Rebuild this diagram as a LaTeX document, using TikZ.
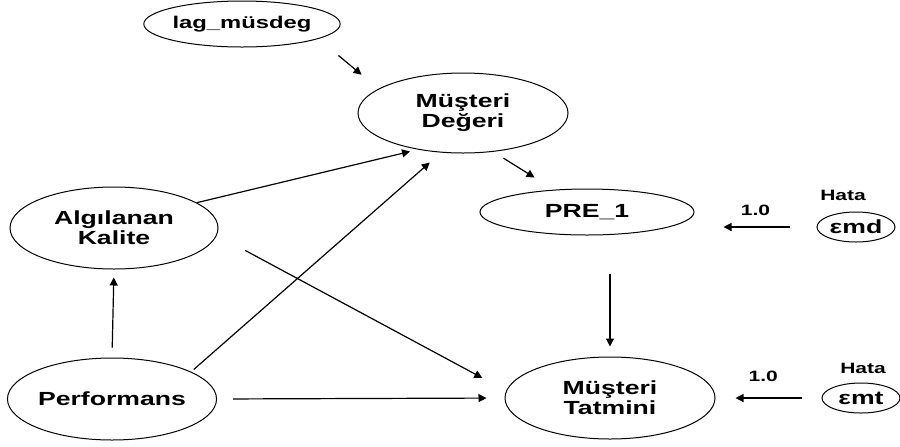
\documentclass[tikz,border=0pt]{standalone}
\usepackage{fontspec}
\setmainfont{Liberation Sans}[FakeStretch=1.4]
\usetikzlibrary{shapes, arrows.meta, positioning, calc}

\begin{document}
\begin{tikzpicture}[x=0.5pt, y=-0.5pt, >={Triangle[length=4pt, width=4pt]},
        latent/.style={ellipse, draw, line width=0.5pt, inner sep=0pt, align=center, font=\fontsize{9.5}{8.5}\selectfont\bfseries},
        error/.style={ellipse, draw, line width=0.5pt, inner sep=0pt, minimum width=39pt, minimum height=15pt, font=\fontsize{9.5}{9.5}\selectfont\bfseries},
        small/.style={font=\fontsize{7.5}{7.5}\selectfont\bfseries, inner sep=0pt},
        link/.style={->, line width=0.6pt}]

    \useasboundingbox (0,0) rectangle (900,446);

    \node (lag) [latent, minimum width=98pt, minimum height=23pt, font=\fontsize{8.5}{8.5}\selectfont\bfseries] at (242,24) {lag\_müsdeg};
    \node (deger) [latent, minimum width=105pt, minimum height=40pt] at (463,113) {Müşteri\\Değeri};
    \node (pre) [latent, minimum width=107pt, minimum height=23pt] at (587,212) {PRE\_1};
    \node (kalite) [latent, minimum width=104pt, minimum height=41pt] at (114,228) {Algılanan\\Kalite};
    \node (perf) [latent, minimum width=102pt, minimum height=41pt] at (112,399) {Performans};
    \node (tatmin) [latent, minimum width=105pt, minimum height=41pt] at (610,398) {Müşteri\\Tatmini};

    % Error terms
    \node (emd) [error] at (856,227) {εmd};
    \node (emt) [error] at (861,398) {εmt};
    \node (hata1) [small, above=5pt of emd, xshift=-6.5pt] {Hata};
    \node (hata2) [small, above=4pt of emt, xshift=1pt] {Hata};

    % Paths
    \draw [link, shorten <=13pt, shorten >=11pt] (lag.-11) -- (deger.164);
    \draw [link, shorten <=6pt, shorten >=11.4pt] (deger.-52) -- (pre.146);
    \draw [link, shorten >=4pt] (kalite.17) -- (deger.219);
    \draw [link, shorten <=1.7pt, shorten >=7.5pt] (perf.19) -- (deger.-119);
    \draw [link, shorten <=16pt, shorten >=13.5pt] (kalite.-4) -- (tatmin.176);
    \draw [link, shorten <=5pt, shorten >=4pt] (perf.north) -- (kalite.south);
    \draw [link, shorten <=8pt, shorten >=9pt] (perf.east) -- (tatmin.west);
    \draw [link, shorten <=19pt, shorten >=5pt] (pre.south -| tatmin) -- (tatmin.north);

    % Error loadings
    \draw [link, shorten <=13.5pt, shorten >=14.5pt] (emd.west) -- (emd.west -| pre.east) node [small, pos=0.5, above=5.5pt] {1.0};
    \draw [link, shorten <=10pt, shorten >=10pt] (emt.west) -- (tatmin.east) node [small, pos=0.55, above=8pt] {1.0};

\end{tikzpicture}
\end{document}
